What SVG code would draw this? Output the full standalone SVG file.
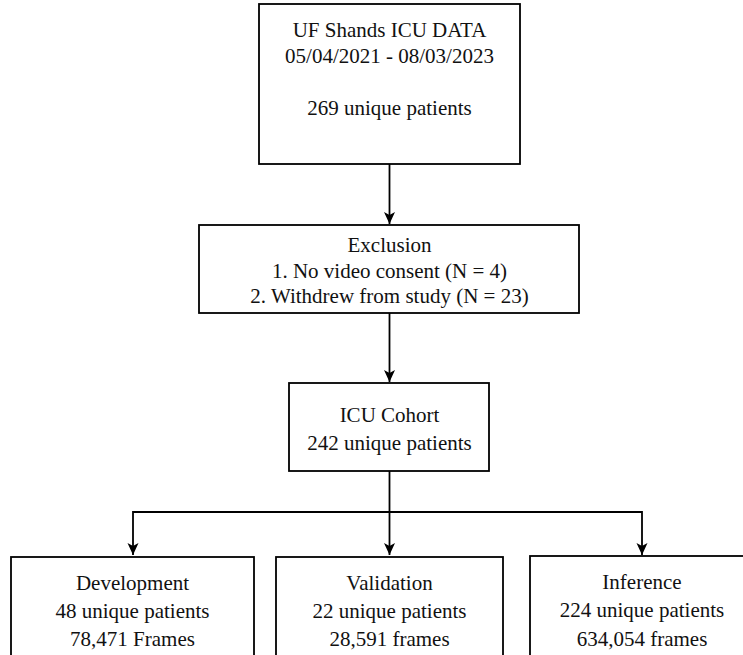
<svg xmlns="http://www.w3.org/2000/svg" width="743" height="655" viewBox="0 0 743 655" font-family="Liberation Serif, Times New Roman, serif">
<style>
  .box { fill: #ffffff; stroke: #000000; stroke-width: 1.8; }
  .t { font-size: 21px; fill: #111111; text-anchor: middle; }
  .c { fill: none; stroke: #000000; stroke-width: 1.8; }
</style>
<defs>
  <marker id="arr" markerUnits="userSpaceOnUse" markerWidth="14" markerHeight="14" viewBox="0 0 14 14" refX="12" refY="7" orient="auto">
    <path d="M0,1.5 L12,7 L0,12.5 L3,7 Z" fill="#000000"/>
  </marker>
</defs>
<rect width="743" height="655" fill="#ffffff"/>
<g id="connectors">
  <line class="c" x1="389.5" y1="164" x2="389.5" y2="224" marker-end="url(#arr)"/>
  <line class="c" x1="389.5" y1="313" x2="389.5" y2="382" marker-end="url(#arr)"/>
  <line class="c" x1="389.5" y1="471" x2="389.5" y2="555" marker-end="url(#arr)"/>
  <polyline class="c" points="389.5,512 133,512 133,555" marker-end="url(#arr)"/>
  <polyline class="c" points="389.5,512 642,512 642,555" marker-end="url(#arr)"/>
</g>
<g id="source" font-family="Liberation Serif, serif">
  <rect class="box" x="259" y="4" width="261" height="160"/>
  <text class="t" x="389.5" y="37" font-family="Liberation Serif, serif">UF Shands ICU DATA</text>
  <text class="t" x="389.5" y="63" font-family="Liberation Serif, serif">05/04/2021 - 08/03/2023</text>
  <text class="t" x="389.5" y="115" font-family="Liberation Serif, serif">269 unique patients</text>
</g>
<g id="exclusion" font-family="Liberation Serif, serif">
  <rect class="box" x="199" y="225" width="380" height="88"/>
  <text class="t" x="389.5" y="252">Exclusion</text>
  <text class="t" x="389.5" y="278">1. No video consent (N = 4)</text>
  <text class="t" x="389.5" y="303">2. Withdrew from study (N = 23)</text>
</g>
<g id="cohort" font-family="Liberation Serif, serif">
  <rect class="box" x="289" y="383" width="200" height="88"/>
  <text class="t" x="389.5" y="422">ICU Cohort</text>
  <text class="t" x="389.5" y="450">242 unique patients</text>
</g>
<g id="development" font-family="Liberation Serif, serif">
  <rect class="box" x="11" y="557" width="243" height="120"/>
  <text class="t" x="132.5" y="590">Development</text>
  <text class="t" x="132.5" y="618">48 unique patients</text>
  <text class="t" x="132.5" y="646">78,471 Frames</text>
</g>
<g id="validation" font-family="Liberation Serif, serif">
  <rect class="box" x="276" y="557" width="227" height="120"/>
  <text class="t" x="389.5" y="590">Validation</text>
  <text class="t" x="389.5" y="618">22 unique patients</text>
  <text class="t" x="389.5" y="646">28,591 frames</text>
</g>
<g id="inference" font-family="Liberation Serif, serif">
  <rect class="box" x="530" y="556" width="224" height="120"/>
  <text class="t" x="642" y="589">Inference</text>
  <text class="t" x="642" y="617">224 unique patients</text>
  <text class="t" x="642" y="646">634,054 frames</text>
</g>
</svg>
